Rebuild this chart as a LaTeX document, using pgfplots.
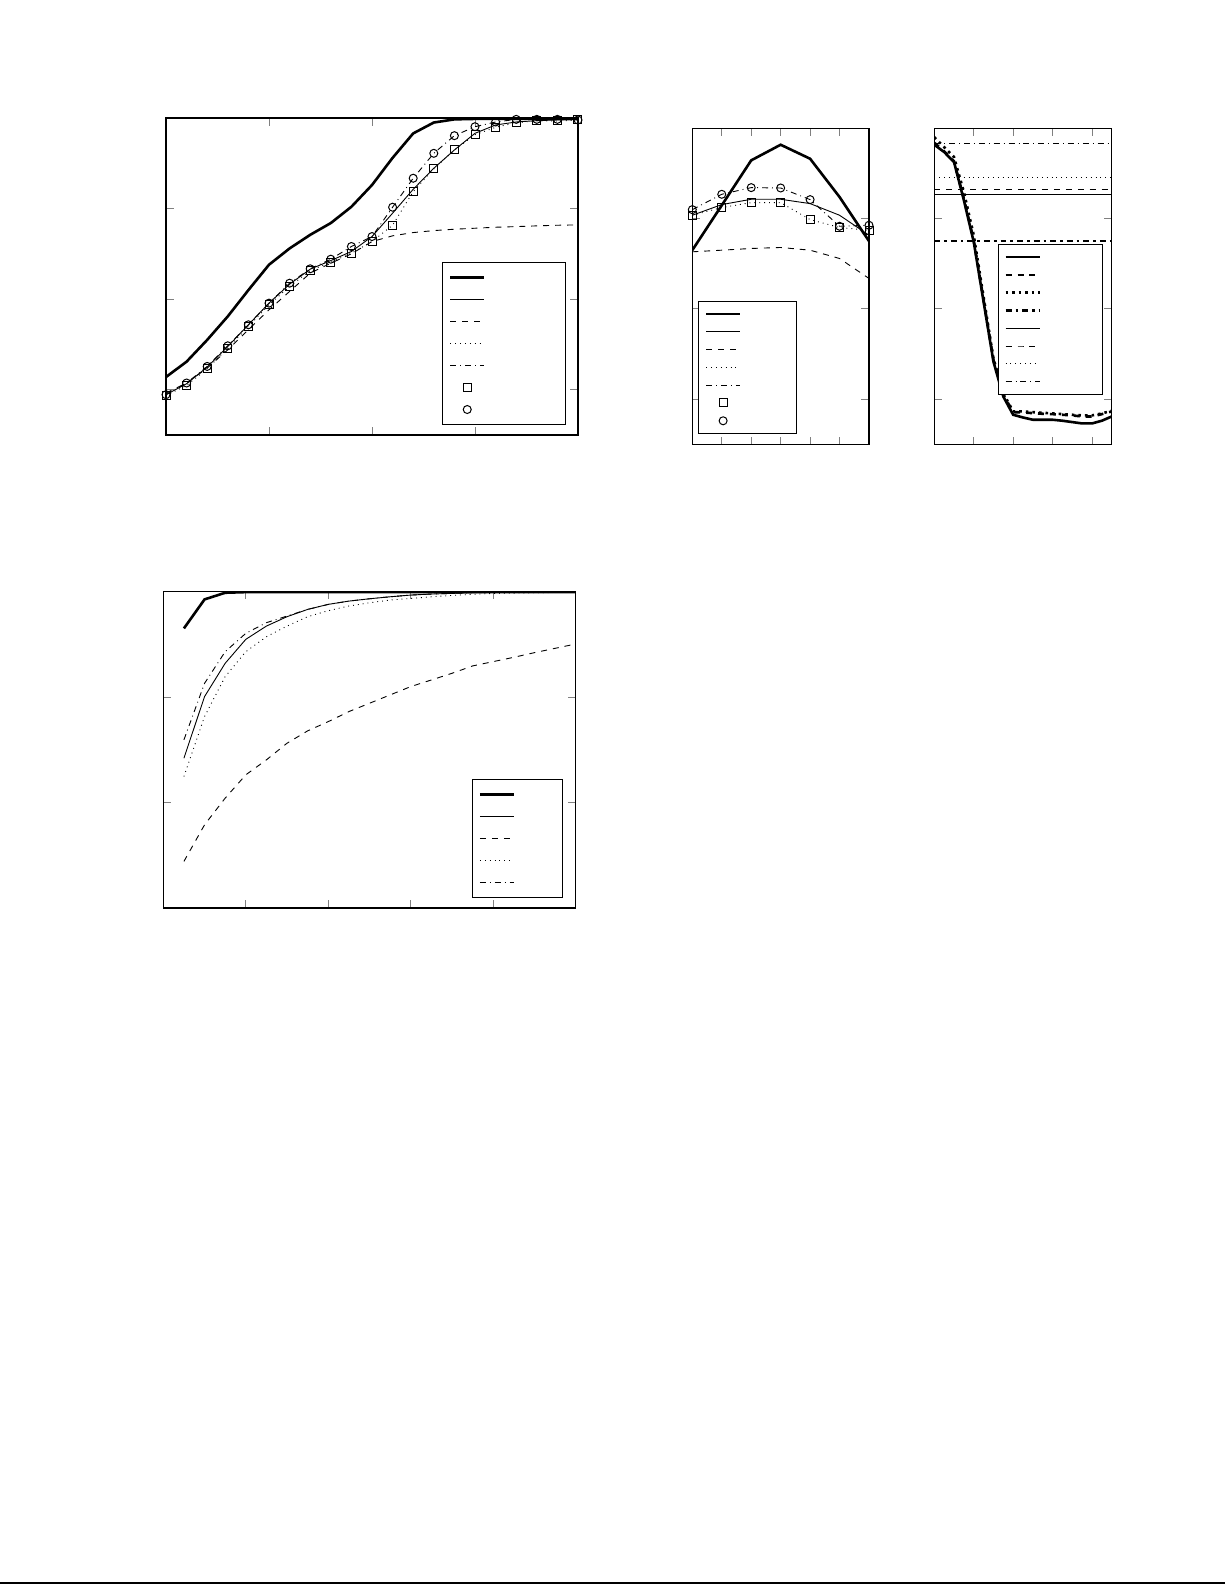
\documentclass[border=0pt]{standalone}
\usepackage{pgfplots}
\usepackage{pgfplotstable}
\pgfplotsset{compat=1.18}

\pgfplotstableread{
x    thick  thin   dashed sq     circ
0.0  1.140  0.945  0.963  0.934  0.945
0.2  1.310  1.066  1.074  1.048  1.074
0.4  1.550  1.250  1.239  1.232  1.257
0.6  1.810  1.478  1.441  1.460  1.485
0.8  2.100  1.717  1.662  1.699  1.717
1.0  2.380  1.956  1.882  1.938  1.956
1.2  2.560  2.165  2.085  2.140  2.176
1.4  2.710  2.331  2.287  2.316  2.335
1.6  2.840  2.426  2.397  2.408  2.441
1.8  3.020  2.526  2.500  2.507  2.581
2.0  3.260  2.691  2.636  2.636  2.691
2.2  3.560  2.949  2.699  2.816  3.015
2.4  3.830  3.213  2.735  3.188  3.335
2.6  3.950  3.445  2.757  3.438  3.610
2.8  3.985  3.647  2.772  3.647  3.805
3.0  3.990  3.831  2.783  3.816  3.904
3.2  3.990  3.923  2.794  3.897  3.956
3.4  3.990  3.956  2.801  3.949  3.985
3.6  3.990  3.971  2.809  3.967  3.985
3.8  3.990  3.978  2.816  3.967  3.985
4.0  3.990  3.985  2.820  3.978  3.978
}\tA

\pgfplotstableread{
x  thick  thin   dashed sq     circ
0  2.650  3.037  2.632  3.037  3.099
1  3.147  3.155  2.650  3.122  3.269
2  3.645  3.214  2.669  3.177  3.343
3  3.818  3.214  2.680  3.177  3.339
4  3.663  3.166  2.650  2.989  3.210
5  3.239  3.037  2.558  2.901  2.915
6  2.750  2.816  2.337  2.871  2.926
}\tB

\pgfplotstableread{
x     solid  dashed dotted
0.00  3.818  3.840  3.902
0.25  3.737  3.744  3.792
0.50  3.626  3.634  3.681
0.75  3.203  3.221  3.295
1.00  2.742  2.761  2.816
1.25  2.079  2.098  2.134
1.50  1.416  1.435  1.453
1.75  1.029  1.048  1.066
2.00  0.827  0.856  0.864
2.25  0.797  0.853  0.864
2.50  0.772  0.845  0.856
2.75  0.772  0.838  0.849
3.00  0.772  0.834  0.842
3.25  0.761  0.827  0.834
3.50  0.746  0.820  0.827
3.75  0.731  0.808  0.820
4.00  0.731  0.808  0.820
4.25  0.761  0.834  0.842
4.50  0.808  0.864  0.871
}\tC

\pgfplotstableread{
x     hdd    hs     hd     ht     hdt
0.0   2.750  3.265  3.324  3.453  3.829
4.5   2.750  3.265  3.324  3.453  3.829
}\tCh

\pgfplotstableread{
x    thick   thin    dashed  dotted  dashdot
5    0.9652  0.8421  0.7442  0.8247  0.8595
10   0.9927  0.9005  0.7789  0.8816  0.9131
15   0.9990  0.9321  0.8042  0.9195  0.9431
20   0.9996  0.9548  0.8263  0.9431  0.9605
25   0.9996  0.9674  0.8405  0.9573  0.9706
30   0.9996  0.9763  0.8563  0.9674  0.9769
35   0.9996  0.9832  0.8680  0.9763  0.9832
40   0.9996  0.9880  0.8768  0.9820  0.9880
45   0.9996  0.9911  0.8863  0.9864  0.9911
50   0.9996  0.9933  0.8942  0.9895  0.9933
55   0.9996  0.9952  0.9021  0.9921  0.9952
60   0.9996  0.9968  0.9100  0.9936  0.9968
65   0.9996  0.9978  0.9163  0.9952  0.9978
70   0.9996  0.9984  0.9226  0.9965  0.9984
75   0.9996  0.9990  0.9296  0.9975  0.9990
80   0.9996  0.9993  0.9337  0.9984  0.9993
85   0.9996  0.9996  0.9378  0.9987  0.9996
90   0.9996  0.9996  0.9422  0.9990  0.9996
95   0.9996  0.9998  0.9463  0.9993  0.9998
100  0.9996  0.9998  0.9504  0.9997  0.9998
}\tD

\newcommand\LA{\rule{0pt}{7bp}\hspace*{33bp}}
\newcommand\LD{\rule{0pt}{7bp}\hspace*{16.5bp}}
\newcommand\LB{\rule{0pt}{4.9bp}\hspace*{20.5bp}}
\newcommand\LC{\rule{0pt}{4.9bp}\hspace*{24bp}}

\pgfplotsset{
  every axis/.append style={
    scale only axis,
    axis line style={line width=0.6bp},
    xticklabels={}, yticklabels={},
    tick align=inside,
    major tick length=3.8bp,
    tick style={gray, line width=0.4bp},
    xtick pos=both, ytick pos=both,
    legend cell align=left,
    legend style={draw=black, line width=0.5bp, inner xsep=3bp, inner ysep=2bp,
      nodes={inner sep=2bp, text depth=0pt}},
  },
  thk/.style={line width=1.3bp},
  thn/.style={line width=0.45bp},
  mk/.style={only marks, mark size=2bp, mark options={solid, line width=0.5bp}},
}

\begin{document}
\begin{tikzpicture}
\path[use as bounding box] (0bp,0bp) rectangle (612.5bp,-792.5bp);
\draw[line width=0.8bp] (0bp,-791.6bp) -- (612.5bp,-791.6bp);

% ---------- plot 1 ----------
\begin{axis}[at={(83bp,-59bp)}, anchor=north west,
  width=206bp, height=158.5bp,
  xmin=0, xmax=4, ymin=0.5, ymax=4,
  xtick={1,2,3}, ytick={1,2,3},
  legend style={at={(0.971,0.0315)}, anchor=south east}]
\addplot[thk, black] table[x=x, y=thick] {\tA};
\addlegendentry{\LA}
\addplot[thn, black] table[x=x, y=thin] {\tA};
\addlegendentry{\LA}
\addplot[thn, black, dashed] table[x=x, y=dashed] {\tA};
\addlegendentry{\LA}
\addplot[thn, black, dotted] table[x=x, y=sq] {\tA};
\addlegendentry{\LA}
\addplot[thn, black, dashdotted] table[x=x, y=circ] {\tA};
\addlegendentry{\LA}
\addplot[black, mk, mark=square] table[x=x, y=sq] {\tA};
\addlegendentry{\LA}
\addplot[black, mk, mark=o] table[x=x, y=circ] {\tA};
\addlegendentry{\LA}
\end{axis}

% ---------- plot 2 ----------
\begin{axis}[at={(346.15bp,-64.15bp)}, anchor=north west,
  width=88.35bp, height=158bp,
  xmin=0, xmax=6, ymin=0.5, ymax=4,
  xtick={1,2,3,4,5}, ytick={1,2,3},
  legend style={at={(0.034,0.032)}, anchor=south west}]
\addplot[thk, black] table[x=x, y=thick] {\tB};
\addlegendentry{\LB}
\addplot[thn, black] table[x=x, y=thin] {\tB};
\addlegendentry{\LB}
\addplot[thn, black, dashed] table[x=x, y=dashed] {\tB};
\addlegendentry{\LB}
\addplot[thn, black, dotted] table[x=x, y=sq] {\tB};
\addlegendentry{\LB}
\addplot[thn, black, dashdotted] table[x=x, y=circ] {\tB};
\addlegendentry{\LB}
\addplot[black, mk, mark=square] table[x=x, y=sq] {\tB};
\addlegendentry{\LB}
\addplot[black, mk, mark=o] table[x=x, y=circ] {\tB};
\addlegendentry{\LB}
\end{axis}

% ---------- plot 3 ----------
\begin{axis}[at={(467.15bp,-64.15bp)}, anchor=north west,
  width=88.7bp, height=158bp,
  xmin=0, xmax=4.5, ymin=0.5, ymax=4,
  xtick={1,2,3,4}, ytick={1,2,3},
  legend style={at={(0.953,0.156)}, anchor=south east}]
\addplot[thk, black] table[x=x, y=solid] {\tC};
\addlegendentry{\LC}
\addplot[thk, black, dashed] table[x=x, y=dashed] {\tC};
\addlegendentry{\LC}
\addplot[thk, black, dotted] table[x=x, y=dotted] {\tC};
\addlegendentry{\LC}
\addplot[thk, black, dashdotted] table[x=x, y=hdd] {\tCh};
\addlegendentry{\LC}
\addplot[thn, black] table[x=x, y=hs] {\tCh};
\addlegendentry{\LC}
\addplot[thn, black, dashed] table[x=x, y=hd] {\tCh};
\addlegendentry{\LC}
\addplot[thn, black, dotted] table[x=x, y=ht] {\tCh};
\addlegendentry{\LC}
\addplot[thn, black, dashdotted] table[x=x, y=hdt] {\tCh};
\addlegendentry{\LC}
\end{axis}

% ---------- plot 4 ----------
\begin{axis}[at={(81.65bp,-295.85bp)}, anchor=north west,
  width=206.2bp, height=158.15bp,
  xmin=0, xmax=100, ymin=0.7, ymax=1.0,
  xtick={20,40,60,80}, ytick={0.8,0.9},
  legend style={at={(0.9685,0.032)}, anchor=south east}]
\addplot[thk, black] table[x=x, y=thick] {\tD};
\addlegendentry{\LD}
\addplot[thn, black] table[x=x, y=thin] {\tD};
\addlegendentry{\LD}
\addplot[thn, black, dashed] table[x=x, y=dashed] {\tD};
\addlegendentry{\LD}
\addplot[thn, black, dotted] table[x=x, y=dotted] {\tD};
\addlegendentry{\LD}
\addplot[thn, black, dashdotted] table[x=x, y=dashdot] {\tD};
\addlegendentry{\LD}
\end{axis}
\end{tikzpicture}
\end{document}
